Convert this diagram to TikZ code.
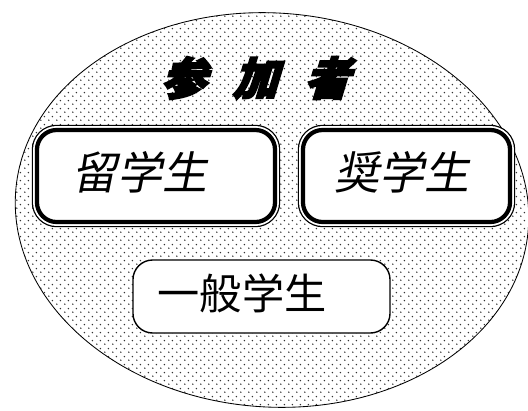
\documentclass[tikz,border=0pt]{standalone}
\usepackage{fontspec}
\usetikzlibrary{patterns.meta,calc}
\newfontfamily\jpfont{Noto Sans CJK JP}
\newfontfamily\jpslant[FakeSlant=0.2]{Noto Sans CJK JP}
\newfontfamily\jptitle[FakeSlant=0.3,FakeBold=4]{Noto Sans CJK JP}

% halftone dots for the ellipse
\tikzdeclarepattern{
  name=halftone,
  type=uncolored,
  bounding box={(0pt,0pt) and (5.4pt,5.4pt)},
  tile size={(5.4pt,5.4pt)},
  code={
    \fill (1.35pt,1.35pt) circle (0.6pt);
    \fill (4.05pt,4.05pt) circle (0.6pt);
  }
}

\tikzset{
  groupbox/.style={draw,fill=white,rounded corners=14pt,line width=3pt,
    minimum height=2.3cm,
    preaction={draw,black,line width=7.4pt},
    preaction={draw,white,line width=5.6pt}},
  plainbox/.style={draw,fill=white,rounded corners=14pt,line width=1pt},
  slanttext/.style={font=\jpslant\fontsize{32pt}{36pt}\selectfont,inner sep=0pt},
  plaintext/.style={font=\jpfont\fontsize{30pt}{34pt}\selectfont,inner sep=0pt},
  titletext/.style={font=\jptitle\bfseries\fontsize{32pt}{36pt}\selectfont,inner sep=0pt}
}

\begin{document}
\begin{tikzpicture}[x=0.025cm,y=0.025cm]
\useasboundingbox (0,0) rectangle (528,410);

% the ellipse of participants
\draw[semithick,pattern=halftone,pattern color=black!80,rotate around={-4:(272,200)}]
  (272,200) ellipse [x radius=257, y radius=197];

% title
\node[titletext] (title) at (255,332) {参\hspace{19pt}加\hspace{19pt}者};

% the three groups
\node[groupbox,minimum width=5.95cm] (ryu) at (156,234) {};
\node[groupbox,minimum width=5.175cm] (sho) at (406.5,234) {};
\node[plainbox,minimum width=6.425cm,minimum height=1.825cm] (ippan) at (261.5,113.5) {};

\node[slanttext] (ryutxt) at ($(ryu)+(-16,4)$) {留学生};
\node[slanttext] (shotxt) at ($(sho)+(-4.5,4)$) {奨学生};
\node[plaintext] (ippantxt) at ($(ippan)+(-19.5,3.5)$) {一般学生};
\end{tikzpicture}
\end{document}
